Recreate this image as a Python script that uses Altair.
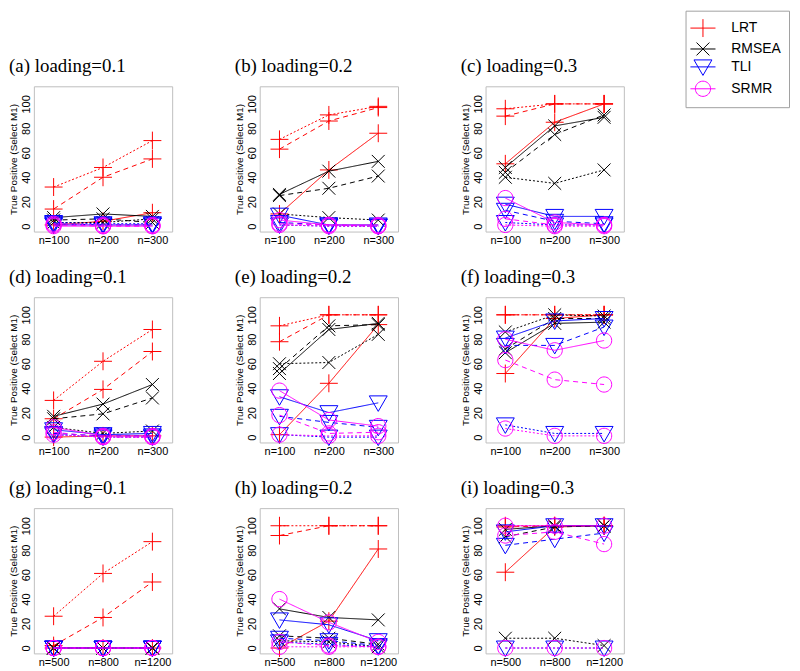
import altair as alt
import pandas as pd

# ---------------- data ----------------
methods = ["LRT", "RMSEA", "TLI", "SRMR"]
method_colors = ["#FF0000", "#000000", "#0000FF", "#FF00FF"]
line_types = ["solid", "dashed", "dotted"]
dash_patterns = [[1, 0], [5, 4], [2, 2]]

n_labels_small = ["n=100", "n=200", "n=300"]
n_labels_large = ["n=500", "n=800", "n=1200"]

panel_titles = ["(a) loading=0.1", "(b) loading=0.2", "(c) loading=0.3",
                "(d) loading=0.1", "(e) loading=0.2", "(f) loading=0.3",
                "(g) loading=0.1", "(h) loading=0.2", "(i) loading=0.3"]

y_title = "True Positive (Select M1)"
y_ticks = [0, 20, 40, 60, 80, 100]

# each method: [solid, dashed, dotted] values at the three sample sizes
panel_a = {"LRT": [[1, 4, 11], [14, 40, 55], [32, 48, 70]],
           "RMSEA": [[7, 10, 8], [5, 6, 3], [3, 3, 6]],
           "TLI": [[1, 1, 1], [2, 1, 1], [3, 2, 2]],
           "SRMR": [[0, 0, 0], [1, 0, 0], [2, 1, 1]]}
panel_b = {"LRT": [[10, 46, 76], [63, 86, 97], [71, 91, 98]],
           "RMSEA": [[26, 45, 53], [25, 31, 41], [10, 7, 5]],
           "TLI": [[9, 1, 1], [3, 1, 0], [1, 0, 0]],
           "SRMR": [[5, 1, 1], [2, 1, 0], [1, 0, 0]]}
panel_c = {"LRT": [[51, 85, 100], [90, 100, 100], [96, 100, 100]],
           "RMSEA": [[48, 82, 89], [44, 75, 91], [40, 35, 46]],
           "TLI": [[18, 8, 8], [13, 4, 2], [3, 1, 1]],
           "SRMR": [[23, 3, 1], [6, 1, 1], [1, 0, 0]]}
panel_d = {"LRT": [[0, 1, 1], [15, 39, 70], [30, 62, 88]],
           "RMSEA": [[17, 27, 43], [15, 19, 32], [8, 3, 5]],
           "TLI": [[6, 2, 3], [3, 1, 1], [2, 0, 0]],
           "SRMR": [[8, 1, 1], [4, 0, 0], [2, 0, 0]]}
panel_e = {"LRT": [[2, 44, 92], [78, 100, 100], [91, 100, 100]],
           "RMSEA": [[52, 88, 93], [56, 91, 92], [60, 61, 84]],
           "TLI": [[33, 20, 28], [17, 12, 8], [2, 0, 0]],
           "SRMR": [[38, 14, 9], [18, 3, 4], [2, 1, 1]]}
panel_f = {"LRT": [[52, 97, 100], [100, 100, 100], [100, 100, 100]],
           "RMSEA": [[69, 93, 94], [72, 97, 97], [86, 100, 99]],
           "TLI": [[81, 95, 97], [75, 75, 90], [10, 3, 3]],
           "SRMR": [[80, 71, 79], [63, 47, 43], [7, 1, 1]]}
panel_g = {"LRT": [[0, 0, 0], [2, 25, 54], [26, 61, 87]],
           "RMSEA": [[0, 0, 0], [0, 0, 0], [0, 0, 0]],
           "TLI": [[0, 0, 0], [0, 0, 0], [0, 0, 0]],
           "SRMR": [[0, 0, 0], [0, 0, 0], [0, 0, 0]]}
panel_h = {"LRT": [[0, 22, 81], [92, 100, 100], [100, 100, 100]],
           "RMSEA": [[32, 25, 23], [10, 8, 3], [6, 5, 1]],
           "TLI": [[23, 19, 6], [8, 6, 2], [5, 3, 1]],
           "SRMR": [[40, 21, 5], [5, 2, 1], [1, 1, 1]]}
panel_i = {"LRT": [[62, 99, 100], [99, 100, 100], [100, 100, 100]],
           "RMSEA": [[97, 100, 100], [91, 99, 100], [8, 8, 2]],
           "TLI": [[95, 100, 100], [84, 89, 94], [0, 0, 0]],
           "SRMR": [[100, 100, 100], [92, 95, 85], [0, 0, 0]]}

panels = [panel_a, panel_b, panel_c, panel_d, panel_e, panel_f,
          panel_g, panel_h, panel_i]

# ---------------- styling ----------------
marker_paths = ["M-1,0L1,0M0,-1L0,1",
                "M-0.72,-0.72L0.72,0.72M-0.72,0.72L0.72,-0.72",
                "M-1,-0.78L1,-0.78L0,0.95Z",
                "M-0.85,0A0.85,0.85 0 1,0 0.85,0A0.85,0.85 0 1,0 -0.85,0Z"]
legend_paths = ["M-1.4,0L1.4,0M0,-1L0,1"] + ["M-1.4,0L1.4,0" + p for p in marker_paths[1:]]

SANS = "Liberation Sans"
W, H = 139, 146


def make_panel(k):
    data = panels[k]
    labels = n_labels_large if k >= 6 else n_labels_small
    label_expr = "[" + ",".join("'%s'" % s for s in labels) + "][datum.value-1]"
    rows = []
    for m in methods:
        for t, vals in zip(line_types, data[m]):
            for p, v in enumerate(vals):
                rows.append({"method": m, "ltype": t, "pos": p + 1, "value": v})
    df = pd.DataFrame(rows)

    xenc = alt.X("pos:Q",
                 scale=alt.Scale(domain=[0.6, 3.4], nice=False, zero=False),
                 axis=alt.Axis(values=[1, 2, 3], labelExpr=label_expr, title=None,
                               ticks=False, domain=False, grid=False,
                               labelFontSize=11, labelFont=SANS, labelColor="black",
                               labelPadding=3, labelFlush=False))
    yenc = alt.Y("value:Q",
                 scale=alt.Scale(domain=[-4.4, 114.4], nice=False, zero=False),
                 axis=alt.Axis(values=y_ticks, title=y_title, ticks=False, domain=False,
                               grid=False, labelAngle=270, labelAlign="center",
                               labelBaseline="bottom", labelPadding=2,
                               labelFontSize=11, labelFont=SANS, labelColor="black",
                               labelFlush=False, titleFont=SANS, titleFontSize=10,
                               titleFontWeight="normal", titleColor="black",
                               titlePadding=2))
    layers = []
    for m, c, shp in zip(methods, method_colors, marker_paths):
        dm = df[df["method"] == m]
        base = alt.Chart(dm)
        layers.append(base.mark_line(color=c, strokeWidth=1.0).encode(
            x=xenc, y=yenc,
            strokeDash=alt.StrokeDash("ltype:N",
                                      scale=alt.Scale(domain=line_types, range=dash_patterns),
                                      legend=None)))
        layers.append(base.mark_point(shape=shp, color=c, size=324, strokeWidth=1.0,
                                      filled=False, opacity=1).encode(x=xenc, y=yenc))
    if k == 2:
        leg_df = pd.DataFrame({"method": methods, "pos": [2] * 4, "value": [-60] * 4})
        legend = alt.Legend(title=None, orient="none", legendX=655, legendY=-76,
                            symbolSize=324, symbolStrokeWidth=1.0, labelFontSize=14,
                            labelFont=SANS, labelColor="black", padding=8,
                            strokeColor="#A0A0A0", fillColor="white", rowPadding=0,
                            labelOffset=19)
        layers.append(alt.Chart(leg_df).mark_point(clip=True, filled=False, size=324,
                                                    strokeWidth=1.0, opacity=1).encode(
            x=xenc, y=yenc,
            color=alt.Color("method:N", scale=alt.Scale(domain=methods, range=method_colors),
                            legend=legend),
            shape=alt.Shape("method:N", scale=alt.Scale(domain=methods, range=legend_paths),
                            legend=legend)))
    return alt.layer(*layers).properties(
        width=W, height=H,
        title=alt.TitleParams(text=panel_titles[k], font="Liberation Serif", fontSize=19,
                              fontWeight="normal", color="black", anchor="start",
                              frame="group", dx=-25, offset=10))


chart = alt.concat(*[make_panel(k) for k in range(9)], columns=3,
                   spacing={"row": 66, "column": 88}, bounds="flush").properties(
    padding={"left": 0, "top": 0, "right": 2, "bottom": 2}
).configure_view(stroke="#BEBEBE", strokeWidth=1, fill="white")

chart.save("out.html", embed_options={"renderer": "svg", "actions": False})
